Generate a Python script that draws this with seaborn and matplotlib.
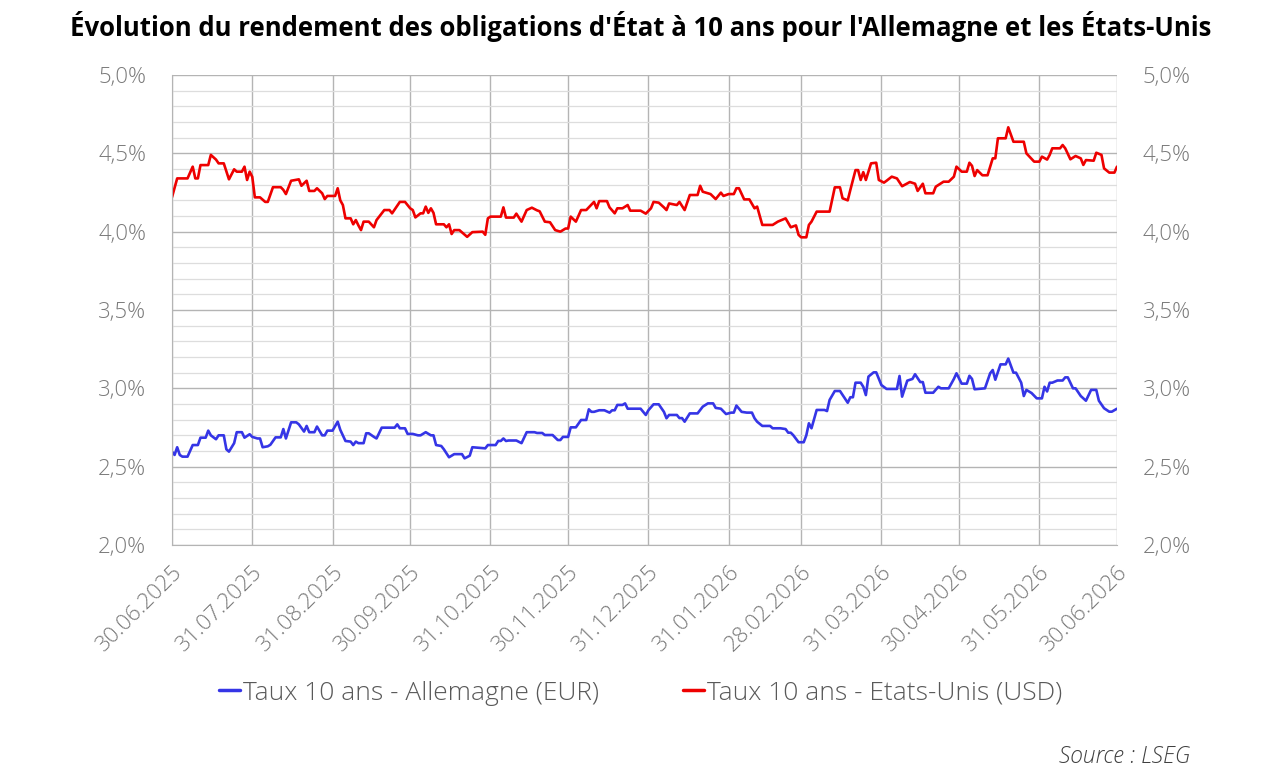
import matplotlib
matplotlib.use('Agg')
import matplotlib.pyplot as plt
import matplotlib.ticker as mticker
import numpy as np
import pandas as pd
import seaborn as sns

# Data: days since 30.06.2025 and 10y yields (%)
start = pd.Timestamp('2025-06-30')

de_days = [0, 1, 2, 3, 4, 6, 8, 10, 11, 13, 14, 15, 17, 18, 20, 21, 22, 24, 25, 27,
           28, 30, 31, 33, 34, 35, 37, 38, 40, 42, 43, 44, 46, 48, 49, 51, 52, 53, 55, 56,
           58, 59, 60, 62, 64, 65, 67, 69, 70, 71, 72, 74, 75, 76, 78, 79, 81, 83, 86, 87,
           88, 90, 91, 93, 95, 96, 98, 100, 101, 102, 104, 105, 107, 109, 112, 113, 115, 116, 119, 121,
           122, 125, 126, 127, 128, 129, 130, 133, 135, 137, 140, 141, 143, 144, 147, 149, 150, 151, 153, 154,
           156, 158, 160, 161, 162, 163, 165, 167, 169, 170, 171, 172, 174, 175, 176, 179, 181, 183, 184, 186,
           188, 190, 191, 192, 195, 196, 197, 198, 200, 203, 205, 207, 209, 210, 212, 214, 216, 217, 218, 220,
           222, 224, 225, 226, 228, 231, 232, 235, 237, 238, 239, 240, 242, 244, 245, 246, 247, 249, 252, 253,
           254, 256, 258, 261, 262, 263, 264, 266, 267, 268, 269, 271, 272, 274, 276, 280, 281, 282, 284, 286,
           287, 289, 290, 291, 294, 296, 297, 300, 302, 303, 305, 307, 308, 309, 310, 314, 316, 317, 318, 320,
           322, 323, 325, 326, 328, 329, 330, 332, 334, 336, 337, 338, 339, 340, 342, 344, 345, 346, 348, 349,
           351, 353, 355, 357, 358, 360, 362, 363, 365]
de_yield = [2.596, 2.575, 2.624, 2.575, 2.564, 2.564, 2.638, 2.638, 2.685, 2.685, 2.73, 2.70, 2.675, 2.70, 2.70, 2.611, 2.596, 2.65, 2.72, 2.72,
            2.685, 2.707, 2.69, 2.68, 2.68, 2.624, 2.63, 2.64, 2.687, 2.687, 2.74, 2.68, 2.783, 2.783, 2.77, 2.724, 2.76, 2.72, 2.72, 2.756,
            2.70, 2.70, 2.73, 2.73, 2.787, 2.735, 2.664, 2.66, 2.638, 2.66, 2.65, 2.65, 2.713, 2.713, 2.69, 2.68, 2.749, 2.749, 2.749, 2.77,
            2.745, 2.745, 2.709, 2.709, 2.70, 2.70, 2.72, 2.70, 2.70, 2.638, 2.632, 2.611, 2.56, 2.58, 2.58, 2.553, 2.57, 2.624, 2.62, 2.617,
            2.638, 2.638, 2.664, 2.664, 2.68, 2.664, 2.667, 2.667, 2.65, 2.72, 2.72, 2.715, 2.715, 2.702, 2.702, 2.67, 2.67, 2.69, 2.69, 2.751,
            2.751, 2.798, 2.798, 2.866, 2.85, 2.85, 2.86, 2.86, 2.845, 2.86, 2.86, 2.894, 2.894, 2.904, 2.87, 2.87, 2.87, 2.83, 2.86, 2.898,
            2.898, 2.85, 2.809, 2.83, 2.83, 2.81, 2.81, 2.787, 2.84, 2.84, 2.883, 2.904, 2.904, 2.875, 2.87, 2.836, 2.845, 2.845, 2.89, 2.85,
            2.845, 2.845, 2.809, 2.787, 2.76, 2.76, 2.745, 2.745, 2.74, 2.717, 2.717, 2.70, 2.656, 2.656, 2.70, 2.777, 2.745, 2.862, 2.862, 2.855,
            2.926, 2.983, 2.983, 2.908, 2.943, 2.943, 3.036, 3.036, 3.01, 2.957, 3.075, 3.102, 3.102, 3.021, 2.996, 2.996, 3.079, 2.947, 3.049, 3.06,
            3.09, 3.04, 3.04, 2.972, 2.972, 3.01, 3.0, 3.0, 3.06, 3.096, 3.03, 3.03, 3.08, 3.06, 2.994, 3.0, 3.096, 3.117, 3.055, 3.153,
            3.153, 3.19, 3.1, 3.1, 3.036, 2.951, 2.99, 2.97, 2.936, 2.936, 3.01, 2.98, 3.036, 3.036, 3.05, 3.05, 3.07, 3.07, 3.0, 3.0,
            2.951, 2.921, 2.99, 2.99, 2.921, 2.873, 2.851, 2.851, 2.87]

us_days = [0, 2, 6, 8, 9, 10, 11, 14, 15, 17, 18, 20, 22, 24, 25, 27, 28, 29, 30, 31,
           32, 34, 36, 37, 39, 42, 43, 44, 46, 49, 50, 52, 53, 55, 56, 58, 59, 60, 63, 64,
           65, 66, 67, 69, 70, 71, 72, 73, 74, 76, 78, 79, 82, 84, 85, 88, 90, 92, 93, 94,
           96, 97, 98, 99, 100, 101, 102, 105, 106, 107, 108, 109, 111, 114, 116, 120, 121, 122, 123, 127,
           128, 129, 132, 133, 135, 137, 139, 141, 142, 144, 146, 148, 150, 152, 153, 154, 156, 158, 160, 163,
           164, 165, 168, 169, 171, 172, 174, 176, 177, 181, 183, 185, 186, 188, 190, 191, 192, 195, 196, 198,
           200, 203, 204, 205, 208, 210, 212, 213, 215, 217, 218, 219, 221, 223, 225, 226, 228, 232, 234, 237,
           239, 241, 242, 243, 245, 246, 247, 249, 250, 254, 256, 258, 259, 261, 262, 264, 265, 266, 267, 268,
           270, 272, 273, 275, 276, 278, 280, 282, 285, 287, 288, 290, 291, 294, 295, 298, 300, 302, 303, 305,
           307, 308, 309, 310, 311, 313, 315, 317, 318, 319, 322, 323, 325, 326, 329, 330, 333, 335, 336, 338,
           339, 340, 343, 344, 345, 347, 349, 351, 352, 353, 356, 357, 359, 360, 362, 364, 365]
us_yield = [4.22, 4.34, 4.34, 4.415, 4.34, 4.34, 4.425, 4.425, 4.49, 4.46, 4.436, 4.436, 4.334, 4.398, 4.383, 4.383, 4.415, 4.33, 4.383, 4.35,
            4.219, 4.219, 4.19, 4.19, 4.284, 4.284, 4.267, 4.24, 4.325, 4.334, 4.293, 4.325, 4.26, 4.26, 4.277, 4.245, 4.208, 4.228, 4.228, 4.277,
            4.2, 4.17, 4.085, 4.085, 4.047, 4.074, 4.04, 4.01, 4.064, 4.064, 4.028, 4.074, 4.138, 4.138, 4.117, 4.19, 4.19, 4.149, 4.138, 4.091,
            4.117, 4.117, 4.16, 4.12, 4.149, 4.12, 4.047, 4.047, 4.028, 4.047, 3.985, 4.01, 4.01, 3.967, 3.997, 4.0, 3.98, 4.085, 4.096, 4.096,
            4.155, 4.09, 4.09, 4.115, 4.064, 4.138, 4.153, 4.136, 4.13, 4.064, 4.06, 4.01, 4.0, 4.02, 4.02, 4.096, 4.064, 4.138, 4.138, 4.19,
            4.149, 4.195, 4.195, 4.155, 4.117, 4.149, 4.149, 4.17, 4.134, 4.134, 4.115, 4.149, 4.19, 4.185, 4.155, 4.138, 4.18, 4.17, 4.19, 4.138,
            4.234, 4.234, 4.293, 4.255, 4.24, 4.208, 4.249, 4.228, 4.24, 4.24, 4.277, 4.277, 4.206, 4.206, 4.149, 4.16, 4.043, 4.043, 4.064, 4.085,
            4.028, 4.04, 3.98, 3.964, 3.964, 4.043, 4.064, 4.128, 4.128, 4.128, 4.283, 4.283, 4.213, 4.2, 4.266, 4.393, 4.393, 4.33, 4.38, 4.33,
            4.436, 4.44, 4.33, 4.313, 4.325, 4.351, 4.34, 4.29, 4.317, 4.306, 4.26, 4.306, 4.245, 4.245, 4.287, 4.319, 4.319, 4.351, 4.415, 4.383,
            4.383, 4.44, 4.42, 4.355, 4.393, 4.36, 4.36, 4.468, 4.468, 4.596, 4.596, 4.666, 4.574, 4.574, 4.574, 4.5, 4.447, 4.447, 4.479, 4.46,
            4.49, 4.532, 4.532, 4.553, 4.532, 4.462, 4.483, 4.468, 4.426, 4.457, 4.453, 4.504, 4.49, 4.404, 4.377, 4.377, 4.415]

series_names = ['Taux 10 ans - Allemagne (EUR)', 'Taux 10 ans - Etats-Unis (USD)']
series_colors = ['#3535e6', '#ee0000']

title = "Évolution du rendement des obligations d'État à 10 ans pour l'Allemagne et les États-Unis"
source = 'Source : LSEG'

# Building the long table
df = pd.concat([
    pd.DataFrame({'Date': start + pd.to_timedelta(de_days, unit='D'), 'Taux': de_yield, 'Serie': series_names[0]}),
    pd.DataFrame({'Date': start + pd.to_timedelta(us_days, unit='D'), 'Taux': us_yield, 'Serie': series_names[1]}),
], ignore_index=True)

sns.set_style('white')
plt.rcParams['font.family'] = ['Open Sans', 'DejaVu Sans']

fig = plt.figure(figsize=(12.81, 7.74), dpi=100)
ax = fig.add_axes([172 / 1281, 1 - 545 / 774, 945 / 1281, 470 / 774])

sns.lineplot(data=df, x='Date', y='Taux', hue='Serie', palette=series_colors,
             hue_order=series_names, linewidth=1.9, ax=ax, legend=False)

# Axes
month_ends = pd.date_range('2025-06-30', '2026-06-30', freq='ME')
ax.set_xlim(month_ends[0], month_ends[-1])
ax.set_ylim(2.0, 5.0)
ax.set_xticks(month_ends)
ax.set_xticklabels([d.strftime('%d.%m.%Y') for d in month_ends], rotation=45,
                   ha='right', rotation_mode='anchor', fontsize=16, color='#7a7a7a',
                   fontweight='light')
ax.yaxis.set_major_locator(mticker.MultipleLocator(0.5))
ax.yaxis.set_minor_locator(mticker.MultipleLocator(0.1))
ax.yaxis.set_major_formatter(mticker.FuncFormatter(lambda v, p: f'{v:.1f}%'.replace('.', ',')))
ax.tick_params(axis='y', labelsize=16, labelcolor='#7a7a7a', left=False, right=False,
               labelright=True, pad=15, which='both')
ax.tick_params(axis='x', length=0, pad=12)
for lab in ax.get_yticklabels():
    lab.set_fontweight('light')
ax.grid(which='major', axis='both', color='#b4b4b4', linewidth=1.0)
ax.grid(which='minor', axis='y', color='#dddddd', linewidth=0.9)
ax.set_axisbelow(True)
for s in ['top', 'right']:
    ax.spines[s].set_visible(False)
ax.spines['left'].set_color('#b4b4b4')
ax.spines['bottom'].set_color('#b4b4b4')
ax.set_xlabel('')
ax.set_ylabel('')

# Title, legend, source
fig.text(0.5, 0.966, title, ha='center', va='center', fontsize=18.5, fontweight='bold', color='black')
handles = [plt.Line2D([], [], color=c, linewidth=2.5) for c in series_colors]
fig.legend(handles, series_names, loc='center', bbox_to_anchor=(0.5, 1 - 693 / 774), ncol=2,
           frameon=False, labelcolor='#595959', handlelength=0.8,
           handletextpad=0.1, columnspacing=3.2, prop={'weight': 'light', 'size': 19})
fig.text(1190 / 1281, 1 - 757 / 774, source, ha='right', va='center', fontsize=16.5,
         style='italic', color='#404040', fontweight='light')

fig.savefig('out.png', dpi=100)
